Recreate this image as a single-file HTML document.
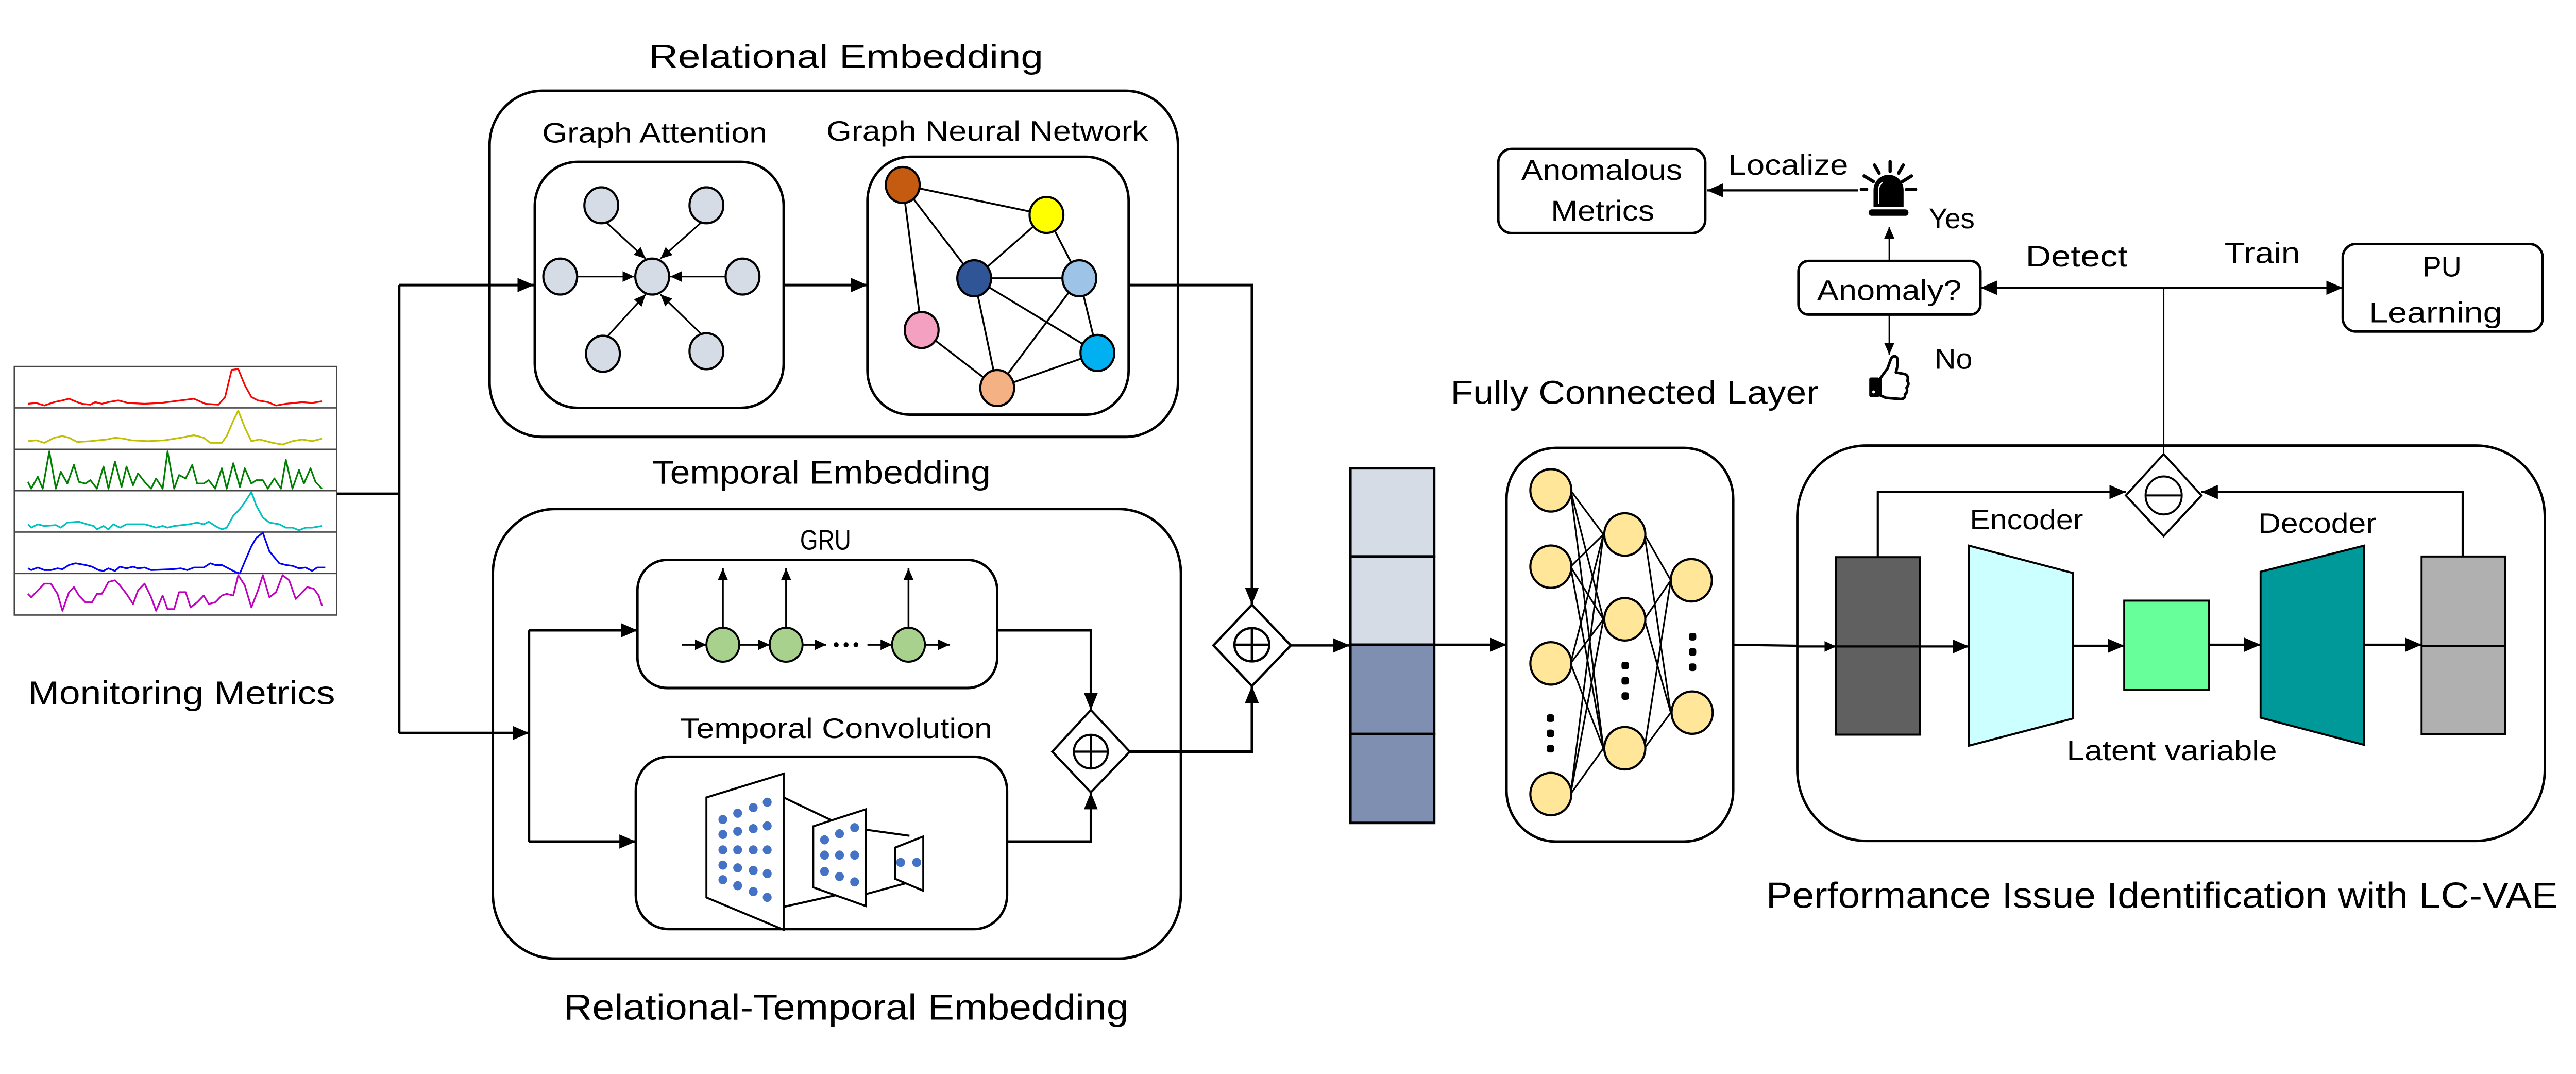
<!DOCTYPE html>
<html><head><meta charset="utf-8"><style>
html,body{margin:0;padding:0;background:#fff;width:100%;height:100%;overflow:hidden;}
svg{display:block;position:absolute;left:0;top:0;width:100vw;height:100vh;}
text{font-family:"Liberation Sans",sans-serif;fill:#000;}
</style></head><body>
<svg xmlns="http://www.w3.org/2000/svg" viewBox="0 0 1568 633" preserveAspectRatio="none">
<defs>
<marker id="a" markerUnits="userSpaceOnUse" markerWidth="10" markerHeight="10" viewBox="0 0 10 10" refX="10" refY="5" orient="auto"><path d="M0,0.8 L10,5 L0,9.2 z" fill="#000"/></marker>
<marker id="s" markerUnits="userSpaceOnUse" markerWidth="7" markerHeight="7" viewBox="0 0 10 10" refX="10" refY="5" orient="auto"><path d="M0,0.5 L10,5 L0,9.5 z" fill="#000"/></marker>
</defs>
<rect width="1568" height="633" fill="#fff"/>

<!-- Monitoring metrics -->
<g stroke="#444" stroke-width="0.8" fill="none">
<rect x="8.7" y="216" width="196.3" height="146.5"/>
<line x1="8.7" y1="240.4" x2="205" y2="240.4"/><line x1="8.7" y1="264.8" x2="205" y2="264.8"/>
<line x1="8.7" y1="289.2" x2="205" y2="289.2"/><line x1="8.7" y1="313.6" x2="205" y2="313.6"/>
<line x1="8.7" y1="338" x2="205" y2="338"/>
</g>
<g fill="none" stroke-width="1" stroke-linejoin="round">
<polyline stroke="#ff0000" points="17,238 22,237.5 27,239 33,237 38,236 42,235 47,237 50,238 55,238.5 58,237 62,238 66,237 72,236 78,237.5 88,238 98,237.5 110,236 118,235 125,238 133,238.5 137,234 141,218 145,217.5 149,227 153,234 157,236 163,237 168,239 174,238 184,237 190,237.5 196,236.5"/>
<polyline stroke="#c0c000" points="17,260 22,259.5 27,261 33,258 38,257 42,258 47,260.5 55,260 65,259 70,258 75,258.5 80,259.5 90,260 100,259.5 110,258 118,256.5 124,258 128,261 135,261 138,257 142,248 145,242 149,252 153,260 158,259 166,261 172,262 178,260 184,259 190,260 196,258.5"/>
<polyline stroke="#008000" points="17,284 19,288 23,281 26,288 30,266 34,288 37,278 41,285 45,274 48,284 52,285 55,283 59,288 63,275 66,288 70,272 74,287 77,275 81,286 84,279 88,284 92,288 95,282 99,288 102,266 106,288 109,280 113,282 117,274 120,285 124,285 127,283 131,288 135,276 138,288 142,273 146,287 149,276 153,285 156,283 160,283 163,288 167,282 171,288 174,271 178,288 182,277 185,285 189,276 192,284 196,288"/>
<polyline stroke="#00c0c0" points="17,309 19,311 23,309 27,310 34,309.5 37,311 41,308 48,307.5 53,309 57,310 59,312 63,310 66,312 69,309 73,311 77,309 88,309 92,310 95,311 99,310 102,311 106,310 115,309 120,308 124,309 127,307.5 131,310 135,312 138,311 142,304 146,300 149,296 153,290 156,298 160,305 164,308 170,309 174,311 178,311 182,312.5 186,311 190,311 196,310"/>
<polyline stroke="#0000ff" points="17,335 19,336 23,334.5 27,336 31,336 35,335 38,335.5 42,333 46,332 52,333 56,334 60,336 63,336.5 66,335 70,336.5 73,334 77,335 81,334 84,335 88,334.5 92,336 105,335.5 110,335 114,336 118,334.5 124,334.5 128,332 131,333 135,333 139,335 143,337 146,338 149,331 153,322 156,317 160,314 164,325 170,332 174,333 178,333.5 182,335 186,334.5 190,336.5 193,334.5 198,334.5"/>
<polyline stroke="#c000c0" points="17,350 19,352 23,348 27,344 31,344 35,350 38,360 42,349 45,346 48,351 52,355 56,355 59,350 62,350 66,343 70,342 73,345 77,350 81,356 84,348 88,344 92,352 95,360 99,351 102,359 106,359 109,349 113,349 116,358 120,355 124,351 127,356 131,355 135,351 138,350 142,351 145,339 149,345 153,358 157,348 160,339 164,352 168,349 172,339 176,342 180,353 183,350 187,346 191,347 194,351 196,357"/>
</g>
<text x="17" y="415" font-size="19.5" textLength="187" lengthAdjust="spacingAndGlyphs">Monitoring Metrics</text>

<!-- input connectors -->
<g stroke="#000" stroke-width="1.5" fill="none">
<polyline points="205,291 243,291"/>
<polyline points="243,168 243,432"/>
<line x1="243" y1="168" x2="325" y2="168" marker-end="url(#a)"/>
<line x1="243" y1="432" x2="322" y2="432" marker-end="url(#a)"/>
</g>

<!-- Relational embedding -->
<text x="395" y="40" font-size="19.5" textLength="240" lengthAdjust="spacingAndGlyphs">Relational Embedding</text>
<rect x="298" y="53.5" width="419" height="204" rx="32" fill="none" stroke="#000" stroke-width="1.5"/>
<text x="330" y="84" font-size="16.5" textLength="137" lengthAdjust="spacingAndGlyphs">Graph Attention</text>
<text x="503" y="83" font-size="16.5" textLength="196" lengthAdjust="spacingAndGlyphs">Graph Neural Network</text>
<rect x="325.5" y="95.4" width="151.5" height="145" rx="26" fill="none" stroke="#000" stroke-width="1.5"/>
<rect x="528" y="92.4" width="159" height="152" rx="26" fill="none" stroke="#000" stroke-width="1.5"/>
<line x1="477" y1="168" x2="528" y2="168" stroke="#000" stroke-width="1.5" marker-end="url(#a)"/>
<g stroke="#000" stroke-width="1" fill="none">
<line x1="351" y1="163" x2="386" y2="163" marker-end="url(#s)"/>
<line x1="442" y1="163" x2="408" y2="163" marker-end="url(#s)"/>
<line x1="369" y1="131" x2="393" y2="152.5" marker-end="url(#s)"/>
<line x1="427" y1="131" x2="402" y2="152.5" marker-end="url(#s)"/>
<line x1="370" y1="198" x2="393" y2="173.5" marker-end="url(#s)"/>
<line x1="427" y1="197" x2="402" y2="173.5" marker-end="url(#s)"/>
</g>
<g fill="#d6dce5" stroke="#000" stroke-width="1.3">
<ellipse cx="397" cy="163" rx="10.3" ry="10.6"/>
<ellipse cx="341" cy="163" rx="10.3" ry="10.6"/>
<ellipse cx="452" cy="163" rx="10.3" ry="10.6"/>
<ellipse cx="366" cy="121" rx="10.3" ry="10.6"/>
<ellipse cx="430" cy="121" rx="10.3" ry="10.6"/>
<ellipse cx="367" cy="208.5" rx="10.3" ry="10.6"/>
<ellipse cx="430" cy="207" rx="10.3" ry="10.6"/>
</g>
<g stroke="#000" stroke-width="1.1">
<line x1="549.5" y1="109" x2="637" y2="126.7"/>
<line x1="549.5" y1="109" x2="593" y2="164"/>
<line x1="549.5" y1="109" x2="561" y2="194.5"/>
<line x1="637" y1="126.7" x2="593" y2="164"/>
<line x1="637" y1="126.7" x2="657" y2="164"/>
<line x1="593" y1="164" x2="657" y2="164"/>
<line x1="593" y1="164" x2="607" y2="228.7"/>
<line x1="593" y1="164" x2="668" y2="208"/>
<line x1="657" y1="164" x2="607" y2="228.7"/>
<line x1="657" y1="164" x2="668" y2="208"/>
<line x1="561" y1="194.5" x2="607" y2="228.7"/>
<line x1="607" y1="228.7" x2="668" y2="208"/>
</g>
<g stroke="#000" stroke-width="1.3">
<ellipse cx="549.5" cy="109" rx="10.3" ry="10.6" fill="#c55a11"/>
<ellipse cx="637" cy="126.7" rx="10.3" ry="10.6" fill="#ffff00"/>
<ellipse cx="593" cy="164" rx="10.3" ry="10.6" fill="#2f5597"/>
<ellipse cx="657" cy="164" rx="10.3" ry="10.6" fill="#9dc3e6"/>
<ellipse cx="561" cy="194.5" rx="10.3" ry="10.6" fill="#f4a0c0"/>
<ellipse cx="668" cy="208" rx="10.3" ry="10.6" fill="#00b0f0"/>
<ellipse cx="607" cy="228.7" rx="10.3" ry="10.6" fill="#f4b183"/>
</g>
<polyline points="687,168 762,168 762,356.4" fill="none" stroke="#000" stroke-width="1.5" marker-end="url(#a)"/>

<!-- Temporal embedding -->
<text x="397" y="285" font-size="19.5" textLength="206" lengthAdjust="spacingAndGlyphs">Temporal Embedding</text>
<rect x="300" y="300" width="418.8" height="265" rx="38" fill="none" stroke="#000" stroke-width="1.5"/>
<text x="487" y="324" font-size="16.5" textLength="31" lengthAdjust="spacingAndGlyphs">GRU</text>
<rect x="388" y="330" width="219" height="75.5" rx="18" fill="none" stroke="#000" stroke-width="1.5"/>
<text x="414" y="435" font-size="16.5" textLength="190" lengthAdjust="spacingAndGlyphs">Temporal Convolution</text>
<rect x="387" y="446" width="226" height="101.6" rx="20" fill="none" stroke="#000" stroke-width="1.5"/>
<g stroke="#000" stroke-width="1.5" fill="none">
<polyline points="322,371.5 322,496"/>
<line x1="322" y1="371.5" x2="388" y2="371.5" marker-end="url(#a)"/>
<line x1="322" y1="496" x2="387" y2="496" marker-end="url(#a)"/>
<polyline points="607,371.5 664,371.5 664,418.5" marker-end="url(#a)"/>
<polyline points="613,496 664,496 664,467" marker-end="url(#a)"/>
<polyline points="687.7,443 762,443 762,404.3" marker-end="url(#a)"/>
</g>
<g stroke="#000" stroke-width="1.1" fill="none">
<line x1="440" y1="370" x2="440" y2="335" marker-end="url(#s)"/>
<line x1="478.5" y1="370" x2="478.5" y2="335" marker-end="url(#s)"/>
<line x1="553" y1="370" x2="553" y2="335" marker-end="url(#s)"/>
<line x1="415" y1="380" x2="430" y2="380" marker-end="url(#s)"/>
<line x1="450" y1="380" x2="468.5" y2="380" marker-end="url(#s)"/>
<line x1="488.5" y1="380" x2="503" y2="380" marker-end="url(#s)"/>
<line x1="528" y1="380" x2="543" y2="380" marker-end="url(#s)"/>
<line x1="563" y1="380" x2="578" y2="380" marker-end="url(#s)"/>
</g>
<g fill="#000"><circle cx="509" cy="380" r="1.5"/><circle cx="515" cy="380" r="1.5"/><circle cx="521" cy="380" r="1.5"/></g>
<g fill="#a9d18e" stroke="#000" stroke-width="1.2">
<ellipse cx="440" cy="380" rx="10" ry="10"/><ellipse cx="478.5" cy="380" rx="10" ry="10"/><ellipse cx="553" cy="380" rx="10" ry="10"/>
</g>
<g stroke="#000" stroke-width="1.2" fill="#fff">
<line x1="477" y1="470" x2="511.6" y2="486"/><line x1="477" y1="534.5" x2="511.6" y2="527"/>
<line x1="527" y1="489" x2="553.6" y2="492.6"/><line x1="527" y1="527" x2="553.6" y2="520"/>
<polygon points="430,470 477,456 477,548 430,529"/>
<polygon points="495,487 527,477 527,534 495,523"/>
<polygon points="545,499.5 562,493 562,525 545,518"/>
</g>
<g fill="#4472c4">
<circle cx="440" cy="483" r="2.7"/><circle cx="440" cy="491.8" r="2.7"/><circle cx="440" cy="500.9" r="2.7"/><circle cx="440" cy="509.9" r="2.7"/><circle cx="440" cy="518.5" r="2.7"/>
<circle cx="449" cy="479.3" r="2.7"/><circle cx="449" cy="490" r="2.7"/><circle cx="449" cy="500.9" r="2.7"/><circle cx="449" cy="511.5" r="2.7"/><circle cx="449" cy="522" r="2.7"/>
<circle cx="458.5" cy="476" r="2.7"/><circle cx="458.5" cy="488.4" r="2.7"/><circle cx="458.5" cy="500.9" r="2.7"/><circle cx="458.5" cy="513" r="2.7"/><circle cx="458.5" cy="525.5" r="2.7"/>
<circle cx="467" cy="472.8" r="2.7"/><circle cx="467" cy="486.8" r="2.7"/><circle cx="467" cy="500.9" r="2.7"/><circle cx="467" cy="514.9" r="2.7"/><circle cx="467" cy="528.9" r="2.7"/>
<circle cx="501.9" cy="495" r="2.7"/><circle cx="501.9" cy="504" r="2.7"/><circle cx="501.9" cy="513.6" r="2.7"/>
<circle cx="511" cy="491.4" r="2.7"/><circle cx="511" cy="504" r="2.7"/><circle cx="511" cy="516.6" r="2.7"/>
<circle cx="520.2" cy="487.8" r="2.7"/><circle cx="520.2" cy="504" r="2.7"/><circle cx="520.2" cy="519.8" r="2.7"/>
<circle cx="548.2" cy="508.3" r="2.7"/><circle cx="558" cy="508.3" r="2.7"/>
</g>
<text x="343" y="601" font-size="21.5" textLength="344" lengthAdjust="spacingAndGlyphs">Relational-Temporal Embedding</text>

<g stroke="#000" stroke-width="1.3" fill="#fff">
<polygon points="664,418.5 687.7,443 664,467 640.5,443"/>
<ellipse cx="664" cy="443" rx="10.3" ry="9.9"/>
<line x1="653.7" y1="443" x2="674.3" y2="443"/><line x1="664" y1="433.1" x2="664" y2="452.9"/>
</g>
<g stroke="#000" stroke-width="1.4" fill="#fff">
<polygon points="762,356.4 785.7,380.4 762,404.3 738.6,380.4"/>
<ellipse cx="762" cy="380" rx="10.6" ry="9.8"/>
<line x1="751.4" y1="380" x2="772.6" y2="380"/><line x1="762" y1="370.2" x2="762" y2="389.8"/>
</g>
<line x1="785.7" y1="380.4" x2="821.6" y2="380.4" stroke="#000" stroke-width="1.4" marker-end="url(#a)"/>

<g stroke="#000" stroke-width="1.5">
<rect x="822" y="276" width="51" height="52" fill="#d6dce5"/>
<rect x="822" y="328" width="51" height="52" fill="#d6dce5"/>
<rect x="822" y="380" width="51" height="52.6" fill="#7f8fb2"/>
<rect x="822" y="432.6" width="51" height="52.4" fill="#7f8fb2"/>
</g>
<line x1="873" y1="380" x2="917" y2="380" stroke="#000" stroke-width="1.4" marker-end="url(#a)"/>

<text x="883" y="238" font-size="19.5" textLength="224" lengthAdjust="spacingAndGlyphs">Fully Connected Layer</text>
<rect x="917" y="264" width="138" height="232" rx="30" fill="none" stroke="#000" stroke-width="1.5"/>
<g stroke="#000" stroke-width="1">
<line x1="956" y1="289" x2="976" y2="315"/><line x1="956" y1="289" x2="976" y2="365"/><line x1="956" y1="289" x2="976" y2="441"/>
<line x1="956" y1="334" x2="976" y2="315"/><line x1="956" y1="334" x2="976" y2="365"/><line x1="956" y1="334" x2="976" y2="441"/>
<line x1="956" y1="391" x2="976" y2="315"/><line x1="956" y1="391" x2="976" y2="365"/><line x1="956" y1="391" x2="976" y2="441"/>
<line x1="956" y1="468" x2="976" y2="315"/><line x1="956" y1="468" x2="976" y2="365"/><line x1="956" y1="468" x2="976" y2="441"/>
<line x1="1001" y1="315" x2="1017" y2="342"/><line x1="1001" y1="315" x2="1017" y2="420"/>
<line x1="1001" y1="365" x2="1017" y2="342"/><line x1="1001" y1="365" x2="1017" y2="420"/>
<line x1="1001" y1="441" x2="1017" y2="342"/><line x1="1001" y1="441" x2="1017" y2="420"/>
</g>
<g fill="#ffe699" stroke="#000" stroke-width="1.3">
<circle cx="944" cy="289" r="12.5"/><circle cx="944" cy="334" r="12.5"/><circle cx="944" cy="391" r="12.5"/><circle cx="944" cy="468" r="12.5"/>
<circle cx="989" cy="315" r="12.5"/><circle cx="989" cy="365" r="12.5"/><circle cx="989" cy="441" r="12.5"/>
<circle cx="1029.5" cy="342" r="12.5"/><circle cx="1030" cy="420" r="12.5"/>
</g>
<g fill="#000">
<rect x="941.5" y="421" width="4.5" height="4.5" rx="1.5"/><rect x="941.5" y="430" width="4.5" height="4.5" rx="1.5"/><rect x="941.5" y="439" width="4.5" height="4.5" rx="1.5"/>
<rect x="987" y="390" width="4.5" height="4.5" rx="1.5"/><rect x="987" y="399" width="4.5" height="4.5" rx="1.5"/><rect x="987" y="408" width="4.5" height="4.5" rx="1.5"/>
<rect x="1028" y="373" width="4.5" height="4.5" rx="1.5"/><rect x="1028" y="382" width="4.5" height="4.5" rx="1.5"/><rect x="1028" y="391" width="4.5" height="4.5" rx="1.5"/>
</g>
<line x1="1055" y1="380" x2="1094" y2="380.6" stroke="#000" stroke-width="1.3"/>

<rect x="1094" y="262.6" width="455" height="233" rx="42" fill="none" stroke="#000" stroke-width="1.5"/>
<text x="1075" y="535" font-size="21.5" textLength="482" lengthAdjust="spacingAndGlyphs">Performance Issue Identification with LC-VAE</text>
<text x="1199" y="312" font-size="16.5" textLength="69" lengthAdjust="spacingAndGlyphs">Encoder</text>
<text x="1374.5" y="314" font-size="16.5" textLength="72" lengthAdjust="spacingAndGlyphs">Decoder</text>
<text x="1258" y="448" font-size="16.5" textLength="128" lengthAdjust="spacingAndGlyphs">Latent variable</text>
<g stroke="#000" stroke-width="1.2">
<rect x="1117.6" y="328.4" width="51" height="104.6" fill="#606060"/>
<polygon points="1198.5,321.6 1261.7,337.7 1261.7,423.5 1198.5,439.5" fill="#ccffff"/>
<rect x="1293" y="354" width="51.7" height="52.7" fill="#66ff99"/>
<polygon points="1376,337 1439,321.6 1439,439 1376,423" fill="#009999"/>
<rect x="1474" y="328" width="51" height="104.6" fill="#b0b0b0"/>
<line x1="1474" y1="380.6" x2="1525" y2="380.6"/>
</g>
<g stroke="#000" stroke-width="1.3" fill="none">
<line x1="1094" y1="381" x2="1117.6" y2="381" marker-end="url(#s)"/>
<line x1="1117.6" y1="381" x2="1198.5" y2="381" marker-end="url(#a)"/>
<line x1="1261.7" y1="380.6" x2="1293" y2="380.6" marker-end="url(#a)"/>
<line x1="1344.7" y1="380" x2="1376" y2="380" marker-end="url(#a)"/>
<line x1="1439" y1="380" x2="1474" y2="380" marker-end="url(#a)"/>
<polyline points="1143,328.4 1143,290 1294,290" marker-end="url(#a)"/>
<polyline points="1499,328 1499,290 1340,290" marker-end="url(#a)"/>
</g>
<g stroke="#000" stroke-width="1.2" fill="#fff">
<polygon points="1317,267.6 1340,292 1317,316 1294,292"/>
<ellipse cx="1317" cy="292" rx="11" ry="11.2"/>
<line x1="1306" y1="292" x2="1328" y2="292"/>
</g>

<line x1="1317" y1="267.6" x2="1317" y2="169.6" stroke="#000" stroke-width="0.9"/>
<line x1="1317" y1="169.6" x2="1205.5" y2="169.6" stroke="#000" stroke-width="1.4" marker-end="url(#a)"/>
<line x1="1317" y1="169.6" x2="1426" y2="169.6" stroke="#000" stroke-width="1.4" marker-end="url(#a)"/>
<text x="1233" y="157" font-size="17.5" textLength="62" lengthAdjust="spacingAndGlyphs">Detect</text>
<text x="1354" y="155" font-size="17.5" textLength="46" lengthAdjust="spacingAndGlyphs">Train</text>
<rect x="1094.7" y="153.8" width="110.8" height="31.6" rx="6" fill="#fff" stroke="#000" stroke-width="1.5"/>
<text x="1106" y="177" font-size="17" textLength="88" lengthAdjust="spacingAndGlyphs">Anomaly?</text>
<rect x="1426" y="143.8" width="121.7" height="51.6" rx="8" fill="#fff" stroke="#000" stroke-width="1.5"/>
<text x="1486.5" y="163" font-size="17" text-anchor="middle">PU</text>
<text x="1442" y="190" font-size="17" textLength="81" lengthAdjust="spacingAndGlyphs">Learning</text>
<rect x="912" y="87.8" width="126" height="49.6" rx="8" fill="#fff" stroke="#000" stroke-width="1.5"/>
<text x="926" y="106" font-size="17" textLength="98" lengthAdjust="spacingAndGlyphs">Anomalous</text>
<text x="944" y="130" font-size="17" textLength="63" lengthAdjust="spacingAndGlyphs">Metrics</text>
<line x1="1131" y1="112.2" x2="1039" y2="112.2" stroke="#000" stroke-width="1.3" marker-end="url(#a)"/>
<text x="1052" y="103" font-size="17" textLength="73" lengthAdjust="spacingAndGlyphs">Localize</text>
<line x1="1150" y1="153.8" x2="1150" y2="133.7" stroke="#000" stroke-width="0.9" marker-end="url(#s)"/>
<line x1="1150" y1="185.4" x2="1150" y2="209" stroke="#000" stroke-width="0.9" marker-end="url(#s)"/>
<text x="1174" y="134.6" font-size="17" textLength="28" lengthAdjust="spacingAndGlyphs">Yes</text>
<text x="1177.6" y="217.3" font-size="17" textLength="23" lengthAdjust="spacingAndGlyphs">No</text>
<g stroke="#000" stroke-width="2" stroke-linecap="round" fill="none">
<line x1="1150.5" y1="95.2" x2="1150.5" y2="101"/>
<line x1="1141" y1="97.3" x2="1143.8" y2="102"/>
<line x1="1158.5" y1="97.3" x2="1155.7" y2="102"/>
<line x1="1134.7" y1="103.7" x2="1140.3" y2="107"/>
<line x1="1163.5" y1="103.7" x2="1158" y2="107"/>
<line x1="1133" y1="111.7" x2="1136.2" y2="111.7"/>
<line x1="1160.5" y1="111.7" x2="1166" y2="111.7"/>
</g>
<path d="M1140.4,121.8 L1140.4,112 A9.15,9 0 0 1 1158.7,112 L1158.7,121.8 Z" fill="#000"/>
<path d="M1143.5,120 L1143.5,112 A5,5 0 0 1 1146,107.5" stroke="#fff" stroke-width="0.8" fill="none"/>
<rect x="1137.4" y="123.4" width="24.3" height="3.8" rx="1.9" fill="#000"/>
<path d="M1144.5,223 L1149,217 L1151,211.5 Q1152.5,209 1154.5,210.5 Q1156,213 1154,219.5 L1159.5,220.5 Q1162,221.5 1161,224.5 Q1162.5,226.5 1160.5,228.5 Q1161.5,231 1159.5,232.5 Q1160,235 1157,235.2 L1148,234.5 L1144.5,233 Z" fill="#fff" stroke="#000" stroke-width="1.6" stroke-linejoin="round"/>
<rect x="1137.8" y="222.5" width="6.2" height="11.5" rx="1" fill="#000"/>
<circle cx="1140.5" cy="231" r="0.9" fill="#fff"/>
</svg>
</body></html>
